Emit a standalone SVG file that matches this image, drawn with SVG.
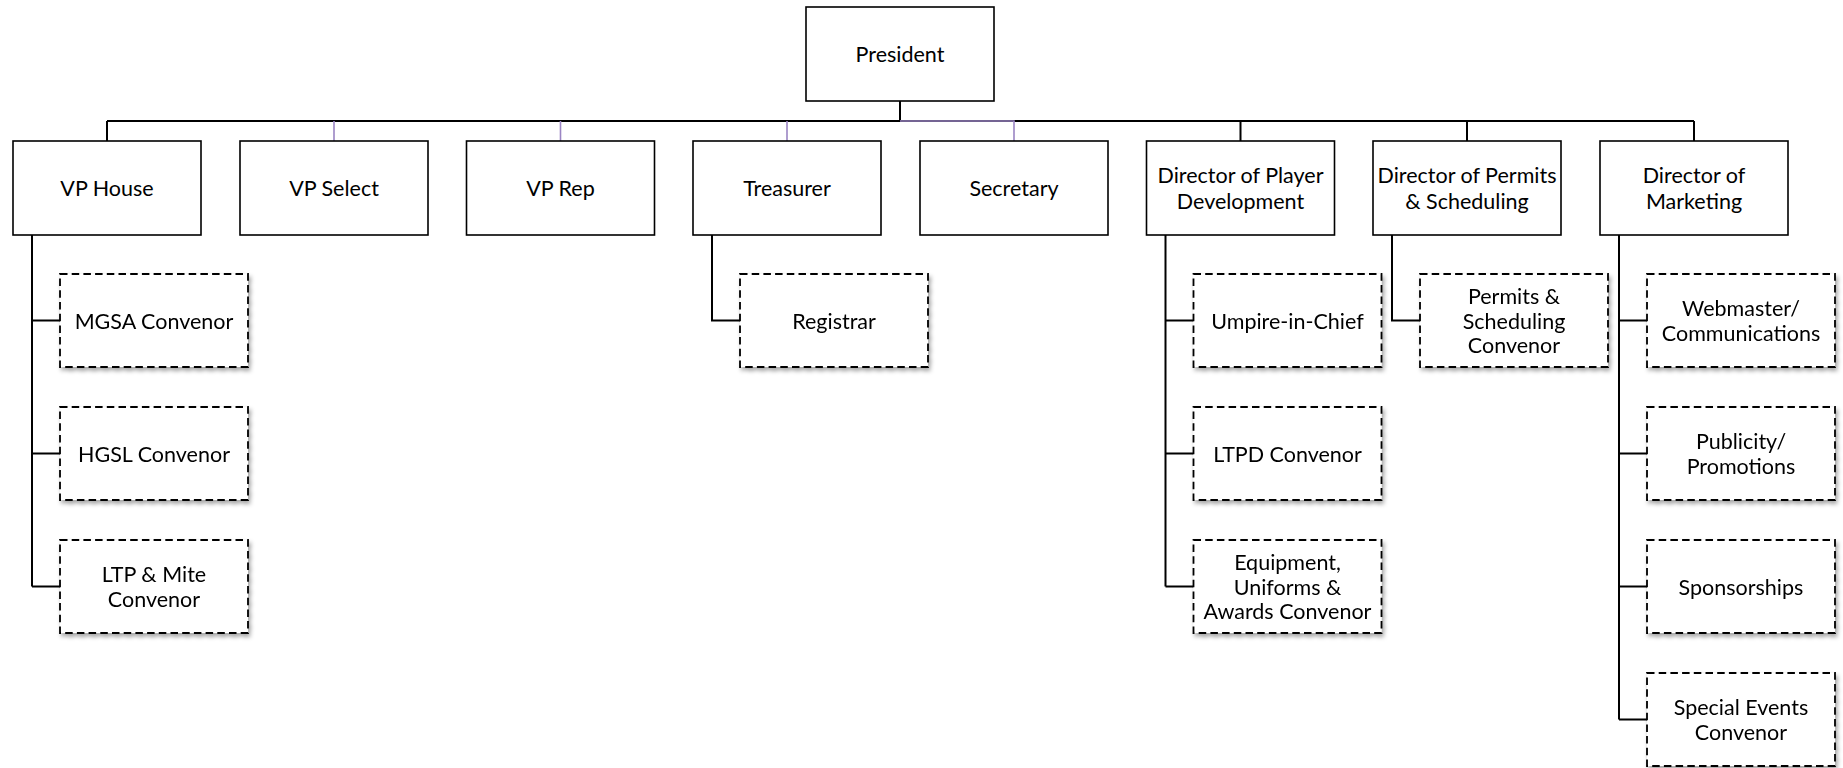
<svg xmlns="http://www.w3.org/2000/svg" width="1843" height="768" viewBox="0 0 1843 768">
<defs>
<filter id="sh" x="-10%" y="-10%" width="130%" height="140%">
<feDropShadow dx="2" dy="3" stdDeviation="2" flood-color="#000" flood-opacity="0.35"/>
</filter>
</defs>
<style>
.box{fill:#fff;stroke:#000;stroke-width:1.6}
.dbox{fill:#fff;stroke:#000;stroke-width:1.8;stroke-dasharray:7.5,4.2}
.t{font-family:Lato,"Open Sans","Liberation Sans",sans-serif;font-size:21.5px;fill:#000;text-anchor:middle}
.k{fill:none;stroke:#000;stroke-width:2}
.p{fill:none;stroke:#9B85C4;stroke-width:1.6}
</style>
<rect width="1843" height="768" fill="#fff"/>
<g id="connectors">
<path class="k" d="M900 101V121M107 121H1694M107 121V141M1240.5 121V141M1467 121V141M1694 121V141"/>
<path class="p" d="M900 121H1014V141M334 121V141M560.5 121V141M787 121V141"/>
<path class="k" d="M32 235V586.5M32 320.5H60M32 453.5H60M32 586.5H60"/>
<path class="k" d="M712 235V320.5H740"/>
<path class="k" d="M1165.5 235V586.5M1165.5 320.5H1193.5M1165.5 453.5H1193.5M1165.5 586.5H1193.5"/>
<path class="k" d="M1392 235V320.5H1420"/>
<path class="k" d="M1619 235V719.5M1619 320.5H1647M1619 453.5H1647M1619 586.5H1647M1619 719.5H1647"/>
</g>
<g id="president"><rect class="box" x="806" y="7" width="188" height="94"/><text class="t" x="900" y="62">President</text></g>
<g id="vp-house"><rect class="box" x="13" y="141" width="188" height="94"/><text class="t" x="107" y="196">VP House</text></g>
<g id="vp-select"><rect class="box" x="240" y="141" width="188" height="94"/><text class="t" x="334" y="196">VP Select</text></g>
<g id="vp-rep"><rect class="box" x="466.5" y="141" width="188" height="94"/><text class="t" x="560.5" y="196">VP Rep</text></g>
<g id="treasurer"><rect class="box" x="693" y="141" width="188" height="94"/><text class="t" x="787" y="196">Treasurer</text></g>
<g id="secretary"><rect class="box" x="920" y="141" width="188" height="94"/><text class="t" x="1014" y="196">Secretary</text></g>
<g id="dir-player-dev"><rect class="box" x="1146.5" y="141" width="188" height="94"/><text class="t" x="1240.5" y="183">Director of Player</text><text class="t" x="1240.5" y="208.5">Development</text></g>
<g id="dir-permits"><rect class="box" x="1373" y="141" width="188" height="94"/><text class="t" x="1467" y="183">Director of Permits</text><text class="t" x="1467" y="208.5">&amp; Scheduling</text></g>
<g id="dir-marketing"><rect class="box" x="1600" y="141" width="188" height="94"/><text class="t" x="1694" y="183">Director of</text><text class="t" x="1694" y="208.5">Marketing</text></g>
<g filter="url(#sh)">
<g id="mgsa"><rect class="dbox" x="60" y="274" width="188" height="93"/><text class="t" x="154" y="328.5">MGSA Convenor</text></g>
<g id="hgsl"><rect class="dbox" x="60" y="407" width="188" height="93"/><text class="t" x="154" y="461.5">HGSL Convenor</text></g>
<g id="ltp-mite"><rect class="dbox" x="60" y="540" width="188" height="93"/><text class="t" x="154" y="582">LTP &amp; Mite</text><text class="t" x="154" y="606.5">Convenor</text></g>
<g id="registrar"><rect class="dbox" x="740" y="274" width="188" height="93"/><text class="t" x="834" y="328.5">Registrar</text></g>
<g id="umpire"><rect class="dbox" x="1193.5" y="274" width="188" height="93"/><text class="t" x="1287.5" y="328.5">Umpire-in-Chief</text></g>
<g id="ltpd"><rect class="dbox" x="1193.5" y="407" width="188" height="93"/><text class="t" x="1287.5" y="461.5">LTPD Convenor</text></g>
<g id="equipment"><rect class="dbox" x="1193.5" y="540" width="188" height="93"/><text class="t" x="1287.5" y="570">Equipment,</text><text class="t" x="1287.5" y="594.5">Uniforms &amp;</text><text class="t" x="1287.5" y="619">Awards Convenor</text></g>
<g id="permits-conv"><rect class="dbox" x="1420" y="274" width="188" height="93"/><text class="t" x="1514" y="304">Permits &amp;</text><text class="t" x="1514" y="328.5">Scheduling</text><text class="t" x="1514" y="353">Convenor</text></g>
<g id="webmaster"><rect class="dbox" x="1647" y="274" width="188" height="93"/><text class="t" x="1741" y="316">Webmaster/</text><text class="t" x="1741" y="340.5">Communications</text></g>
<g id="publicity"><rect class="dbox" x="1647" y="407" width="188" height="93"/><text class="t" x="1741" y="449">Publicity/</text><text class="t" x="1741" y="473.5">Promotions</text></g>
<g id="sponsorships"><rect class="dbox" x="1647" y="540" width="188" height="93"/><text class="t" x="1741" y="594.5">Sponsorships</text></g>
<g id="special-events"><rect class="dbox" x="1647" y="673" width="188" height="93"/><text class="t" x="1741" y="715">Special Events</text><text class="t" x="1741" y="739.5">Convenor</text></g>
</g>
</svg>
